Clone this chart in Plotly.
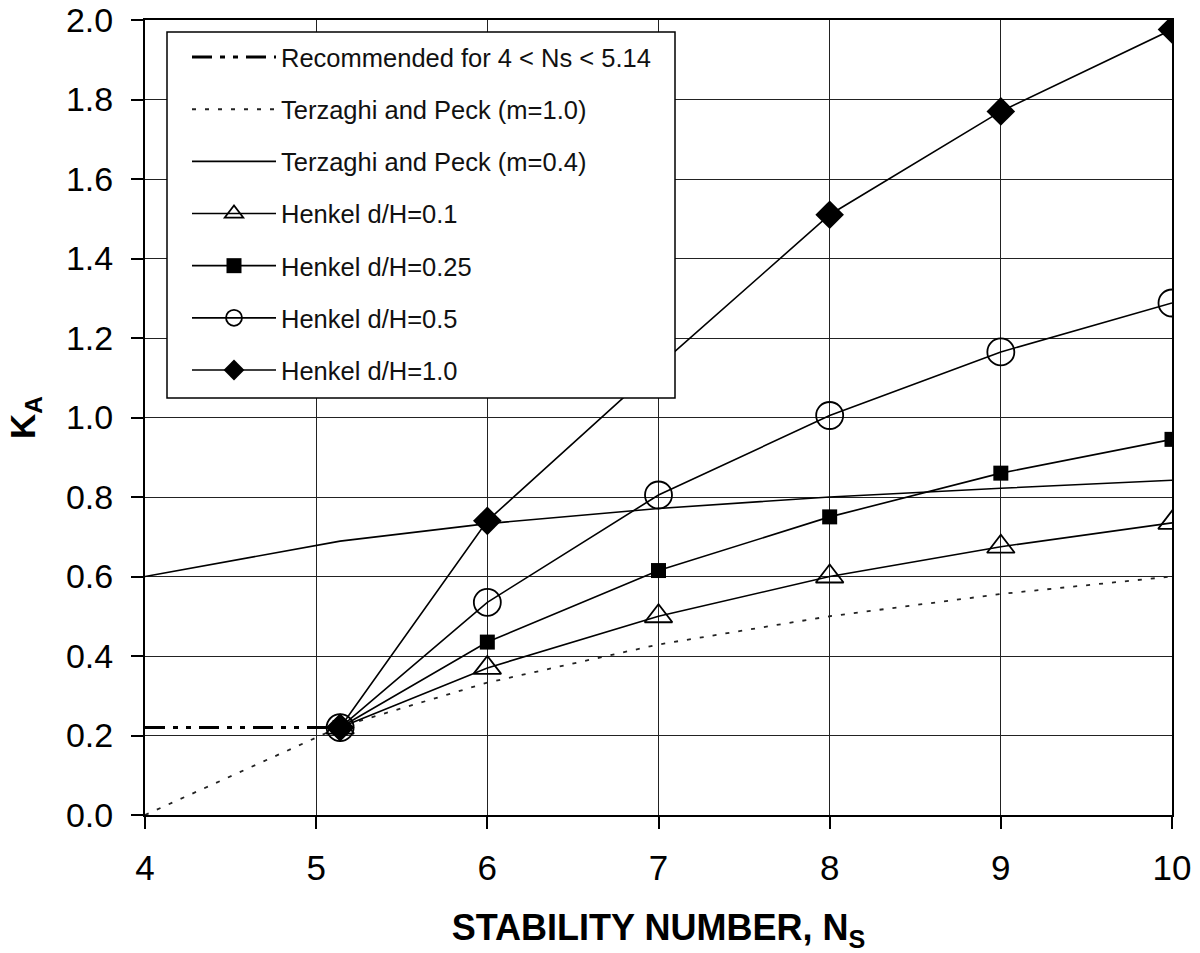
import plotly.graph_objects as go

# Data
ns_rec = [4.0, 5.14]
ka_rec = [0.22, 0.22]

ns_tp = [4.0, 5.14, 6, 7, 8, 9, 10]
ka_tp_m10 = [0.0, 0.222, 0.333, 0.429, 0.50, 0.556, 0.60]
ka_tp_m04 = [0.60, 0.689, 0.733, 0.771, 0.80, 0.822, 0.842]

ns_h = [5.14, 6, 7, 8, 9, 10]
ka_h01 = [0.22, 0.37, 0.50, 0.60, 0.675, 0.735]
ka_h025 = [0.22, 0.435, 0.615, 0.75, 0.86, 0.945]
ka_h05 = [0.22, 0.535, 0.805, 1.005, 1.165, 1.288]
ka_h10 = [0.22, 0.74, 1.13, 1.51, 1.77, 1.976]

x_ticks = [4, 5, 6, 7, 8, 9, 10]
y_ticks = [0.0, 0.2, 0.4, 0.6, 0.8, 1.0, 1.2, 1.4, 1.6, 1.8, 2.0]

FONT = "Liberation Sans, Arial, sans-serif"

fig = go.Figure()
lw = 1.6
fig.add_trace(go.Scatter(x=ns_rec, y=ka_rec, mode="lines", name="Recommended for 4 < Ns < 5.14",
                         line=dict(color="black", width=3, dash="20px,8px,5px,8px,5px,8px"), legendgroup="a"))
fig.add_trace(go.Scatter(x=ns_tp, y=ka_tp_m10, mode="lines", name="Terzaghi and Peck (m=1.0)",
                         line=dict(color="#222", width=1.8, dash="4px,9px"), legendgroup="b"))
fig.add_trace(go.Scatter(x=ns_tp, y=ka_tp_m04, mode="lines", name="Terzaghi and Peck (m=0.4)",
                         line=dict(color="black", width=lw), legendgroup="c"))
fig.add_trace(go.Scatter(x=ns_h, y=ka_h01, mode="lines+markers", name="Henkel d/H=0.1",
                         line=dict(color="black", width=lw),
                         marker=dict(symbol="triangle-up-open", size=24, color="black", line=dict(width=1.8)),
                         legendgroup="d"))
fig.add_trace(go.Scatter(x=ns_h, y=ka_h025, mode="lines+markers", name="Henkel d/H=0.25",
                         line=dict(color="black", width=lw),
                         marker=dict(symbol="square", size=15, color="black"), legendgroup="e"))
fig.add_trace(go.Scatter(x=ns_h, y=ka_h05, mode="lines+markers", name="Henkel d/H=0.5",
                         line=dict(color="black", width=lw),
                         marker=dict(symbol="circle-open", size=27, color="black", line=dict(width=1.8)),
                         legendgroup="f"))
fig.add_trace(go.Scatter(x=ns_h, y=ka_h10, mode="lines+markers", name="Henkel d/H=1.0",
                         line=dict(color="black", width=lw),
                         marker=dict(symbol="diamond", size=22, color="black"), legendgroup="g"))

axis_common = dict(showgrid=True, gridcolor="#222", gridwidth=1.3, showline=True, linecolor="black",
                   linewidth=2, mirror=True, ticks="outside", ticklen=12, tickcolor="black", tickwidth=1.5,
                   zeroline=False, automargin=False)

# legend frame (layout element)
fig.add_shape(type="rect", xref="paper", yref="paper",
              x0=(167 - 145) / 1027, x1=(675 - 145) / 1027,
              y0=(815 - 398) / 795, y1=(815 - 32) / 795,
              line=dict(color="black", width=1.5), fillcolor="white", layer="above")

fig.update_layout(
    width=1200, height=953,
    margin=dict(l=145, r=28, t=20, b=138),
    paper_bgcolor="white", plot_bgcolor="white",
    xaxis=dict(range=[4, 10], tickvals=x_ticks, ticktext=[str(v) for v in x_ticks],
               ticklabelstandoff=9, tickfont=dict(family=FONT, size=35, color="black"),
               title=dict(text="<b>STABILITY NUMBER, N<sub>S</sub></b>", standoff=30,
                          font=dict(family=FONT, size=36, color="black")),
               **axis_common),
    yaxis=dict(range=[0, 2.0], tickvals=y_ticks, ticktext=[f"{v:.1f}" for v in y_ticks],
               ticklabelstandoff=11, tickfont=dict(family=FONT, size=34, color="black"),
               title=dict(text="<b>K<sub>A</sub></b>", standoff=20,
                          font=dict(family=FONT, size=35, color="black")),
               **axis_common),
    legend=dict(x=(187 - 145) / 1027, y=(815 - 34) / 795, xanchor="left", yanchor="top",
                bgcolor="rgba(0,0,0,0)", borderwidth=0, traceorder="grouped", tracegroupgap=16,
                itemwidth=84, font=dict(family=FONT, size=25.5, color="#111")),
    showlegend=True,
)

fig.write_html("out.html")
